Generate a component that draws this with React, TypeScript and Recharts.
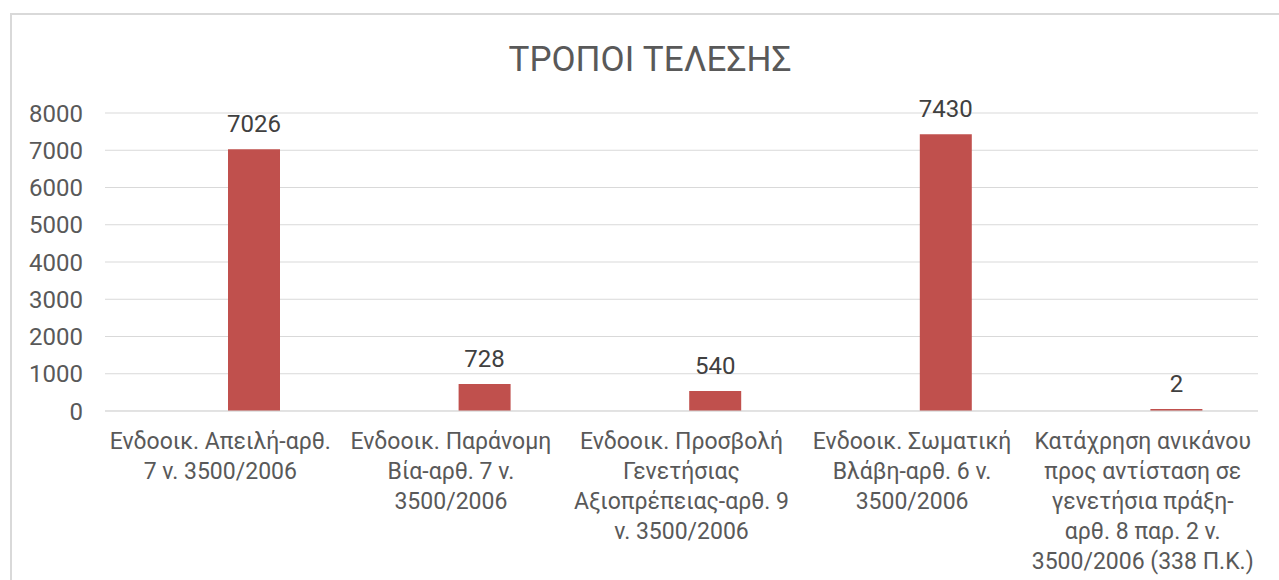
import { BarChart, Bar, XAxis, YAxis, CartesianGrid, LabelList } from 'recharts';

const categories = [
  'Ενδοοικ. Απειλή-αρθ.\n7 ν. 3500/2006',
  'Ενδοοικ. Παράνομη\nΒία-αρθ. 7 ν.\n3500/2006',
  'Ενδοοικ. Προσβολή\nΓενετήσιας\nΑξιοπρέπειας-αρθ. 9\nν. 3500/2006',
  'Ενδοοικ. Σωματική\nΒλάβη-αρθ. 6 ν.\n3500/2006',
  'Κατάχρηση ανικάνου\nπρος αντίσταση σε\nγενετήσια πράξη-\nαρθ. 8 παρ. 2 ν.\n3500/2006 (338 Π.Κ.)',
];
// the original sheet has an empty first series that still takes a slot
const emptySeries = [null, null, null, null, null];
const counts = [7026, 728, 540, 7430, 2];
const yTicks = [0, 1000, 2000, 3000, 4000, 5000, 6000, 7000, 8000];

const data = categories.map((name, i) => ({ name, empty: emptySeries[i], count: counts[i] }));

const FONT = 'Roboto, "Noto Sans", sans-serif';

function CategoryTick({ x, y, payload }: any) {
  const lines = String(payload.value).split('\n');
  return (
    <text x={x} y={y} textAnchor="middle" fill="#595959" fontSize={23} fontFamily={FONT}>
      {lines.map((line, i) => (
        <tspan key={i} x={x} dy={i === 0 ? 38 : 30}>
          {line}
        </tspan>
      ))}
    </text>
  );
}

export default function App() {
  return (
    <div style={{ position: 'absolute', left: 0, top: 0, width: 1279, height: 580, overflow: 'hidden', background: '#fff' }}>
      <div
        style={{
          position: 'absolute',
          left: 10,
          top: 13,
          width: 1300,
          height: 620,
          border: '2px solid #d9d9d9',
        }}
      />
      <div
        style={{
          position: 'absolute',
          left: 0,
          width: 1300,
          top: 42,
          textAlign: 'center',
          fontFamily: FONT,
          fontSize: 35,
          lineHeight: 1,
          color: '#595959',
        }}
      >
        ΤΡΟΠΟΙ ΤΕΛΕΣΗΣ
      </div>
      <div style={{ position: 'absolute', left: 0, top: 0 }}>
        <BarChart
          width={1279}
          height={580}
          data={data}
          margin={{ top: 113, right: 21, bottom: 0, left: 0 }}
          barGap={16}
          barSize={52}
        >
          <CartesianGrid stroke="#d9d9d9" vertical={false} />
          <XAxis
            dataKey="name"
            height={169}
            interval={0}
            axisLine={{ stroke: '#d9d9d9' }}
            tickLine={false}
            tickSize={0}
            tickMargin={0}
            tick={<CategoryTick />}
          />
          <YAxis
            width={105}
            domain={[0, 8000]}
            ticks={yTicks}
            axisLine={false}
            tickLine={false}
            tickSize={0}
            tickMargin={22}
            tick={{ fill: '#595959', fontSize: 24, fontFamily: FONT }}
          />
          <Bar dataKey="empty" fill="#4F81BD" isAnimationActive={false} />
          <Bar dataKey="count" fill="#C0504D" minPointSize={2} isAnimationActive={false}>
            <LabelList dataKey="count" position="top" offset={17} fill="#404040" fontSize={24} fontFamily={FONT} />
          </Bar>
        </BarChart>
      </div>
    </div>
  );
}
